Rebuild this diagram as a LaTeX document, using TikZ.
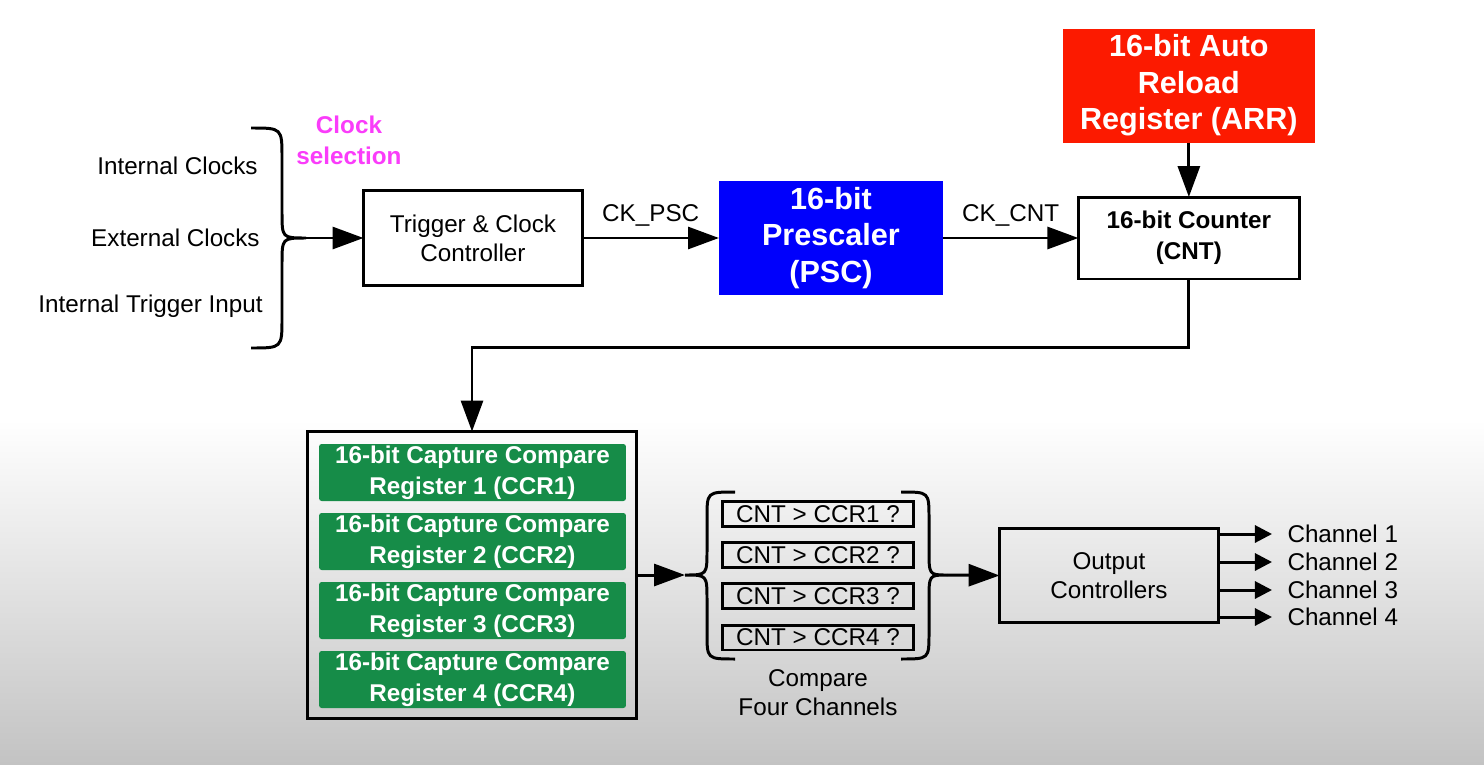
\documentclass[tikz,border=0pt]{standalone}
\usepackage{fontspec}
\setmainfont{Liberation Sans}
\usetikzlibrary{arrows.meta}
\usetikzlibrary{positioning}
\definecolor{pscblue}{RGB}{0,0,252}
\definecolor{arrred}{RGB}{252,26,0}
\definecolor{ccrgreen}{RGB}{22,140,72}
\definecolor{selpink}{RGB}{250,60,250}
\definecolor{bggray}{RGB}{195,195,195}
\newcommand{\regtext}{\fontsize{13.8}{16.6}\selectfont}
\newcommand{\bigbold}{\fontsize{17.4}{20.8}\selectfont\bfseries}
\newcommand{\midbold}{\fontsize{13.8}{17.6}\selectfont\bfseries}
\tikzstyle{plain_box} = [
    draw=black, 
    line width=1.7pt, 
    align=center, 
    inner sep=0pt, 
    outer sep=0pt, 
    font=\regtext
]
\tikzstyle{psc_node} = [
    fill=pscblue, 
    text=white, 
    align=center, 
    inner sep=0pt, 
    outer sep=0pt, 
    font=\bigbold, 
    minimum width=4.48cm, 
    minimum height=2.28cm
]
\tikzstyle{arr_node} = [
    fill=arrred, 
    text=white, 
    align=center, 
    inner sep=0pt, 
    outer sep=0pt, 
    font=\bigbold, 
    minimum width=5.04cm, 
    minimum height=2.28cm
]
\tikzstyle{ccr_node} = [
    rounded corners=1.5pt, 
    fill=ccrgreen, 
    text=white, 
    align=center, 
    inner sep=0pt, 
    outer sep=0pt, 
    font=\midbold, 
    minimum width=6.14cm, 
    minimum height=1.14cm
]
\tikzstyle{cmp_node} = [
    plain_box, 
    minimum width=3.82cm, 
    minimum height=0.5cm
]
\tikzstyle{flow} = [line width=1.7pt, -{Triangle[length=17.6pt, width=12.5pt]}]
\tikzstyle{small_flow} = [line width=1.7pt, -{Triangle[length=9.7pt, width=9.7pt]}]
\tikzstyle{brace_line} = [line width=1.7pt]
\begin{document}
\begin{tikzpicture}[x=0.02cm, y=-0.02cm]
% background
\useasboundingbox (0,0) rectangle (1484,764);
\fill[white] (0,0) rectangle (1484,420);
\shade[top color=white, bottom color=bggray] (0,420) rectangle (1484,764);

% top row
\node [plain_box, minimum width=4.38cm, minimum height=1.90cm] (trig) at (473,238) {Trigger \& Clock\\Controller};
\node [psc_node, right=2.73cm of trig] (psc) {16-bit\\Prescaler\\(PSC)};
\node [plain_box, font=\midbold, minimum width=4.42cm, minimum height=1.64cm, right=2.71cm of psc] (cnt) {16-bit Counter\\(CNT)};
\node [arr_node, above=1.09cm of cnt] (arr) {16-bit Auto\\Reload\\Register (ARR)};

\draw [flow] (trig.east) -- (psc.west) node [midway, above=4pt, inner sep=2pt, font=\regtext] {CK\_PSC};
\draw [flow] (psc.east) -- (cnt.west) node [midway, above=4pt, inner sep=2pt, font=\regtext] {CK\_CNT};
\draw [flow] (arr.south) -- (cnt.north);

% clock inputs
\node [anchor=base east, inner sep=0pt, font=\regtext] (int_clk) at (258,174) {Internal Clocks};
\node [anchor=base east, inner sep=0pt, font=\regtext] (ext_clk) at (260,246) {External Clocks};
\node [anchor=base east, inner sep=0pt, font=\regtext] (int_trg) at (263,312) {Internal Trigger Input};
\node [align=center, text=selpink, font=\midbold] (clk_sel) at (349,140) {Clock\\selection};
\coordinate (sel) at (306,238);
\draw [brace_line] (251,128) .. controls (282,128) .. (282,158) -- (282,212)
    .. controls (282,238) .. (sel) .. controls (282,238) .. (282,264)
    -- (282,318) .. controls (282,348) .. (251,348);
\draw [flow] (sel) -- (trig.west);

% capture compare registers
\node [plain_box, minimum width=6.58cm, minimum height=5.74cm] (ccr_group) at (472,575) {};
\foreach \i/\yy in {1/472.5, 2/541.5, 3/610.5, 4/679.5}
    \node [ccr_node] (ccr\i) at (472.5,\yy) {16-bit Capture Compare\\Register \i\ (CCR\i)};
\draw [flow] (cnt.south) -- ++(0,68.5) -| (ccr_group.north);

% compare four channels
\foreach \i/\yy in {1/514, 2/555, 3/596, 4/637.5}
    \node [cmp_node] (cmp\i) at (818,\yy) {CNT > CCR\i\ ?};
\coordinate (cmp_in) at (685,575);
\coordinate (cmp_out) at (947,575);
\draw [brace_line] (735,492) .. controls (707,492) .. (707,518) -- (707,550)
    .. controls (707,575) .. (cmp_in) .. controls (707,575) .. (707,600)
    -- (707,633) .. controls (707,659) .. (735,659);
\draw [brace_line] (901,492) .. controls (929,492) .. (929,518) -- (929,550)
    .. controls (929,575) .. (cmp_out) .. controls (929,575) .. (929,600)
    -- (929,633) .. controls (929,659) .. (901,659);
\node [align=center, font=\regtext] (cmp_lbl) at (818,693) {Compare\\Four Channels};
\draw [flow] (ccr_group.east) -- (cmp_in);

% outputs
\node [plain_box, minimum width=4.38cm, minimum height=1.88cm] (out) at (1109,575.5) {Output\\Controllers};
\draw [flow] (cmp_out) -- (out.west);
\foreach \i/\yy in {1/534, 2/562, 3/590, 4/617} {
    \coordinate (ch\i) at (1272,\yy);
    \draw [small_flow] (out.east |- ch\i) -- (ch\i) node [anchor=west, inner sep=0pt, xshift=0.28cm, font=\regtext] {Channel \i};
}
\end{tikzpicture}
\end{document}
